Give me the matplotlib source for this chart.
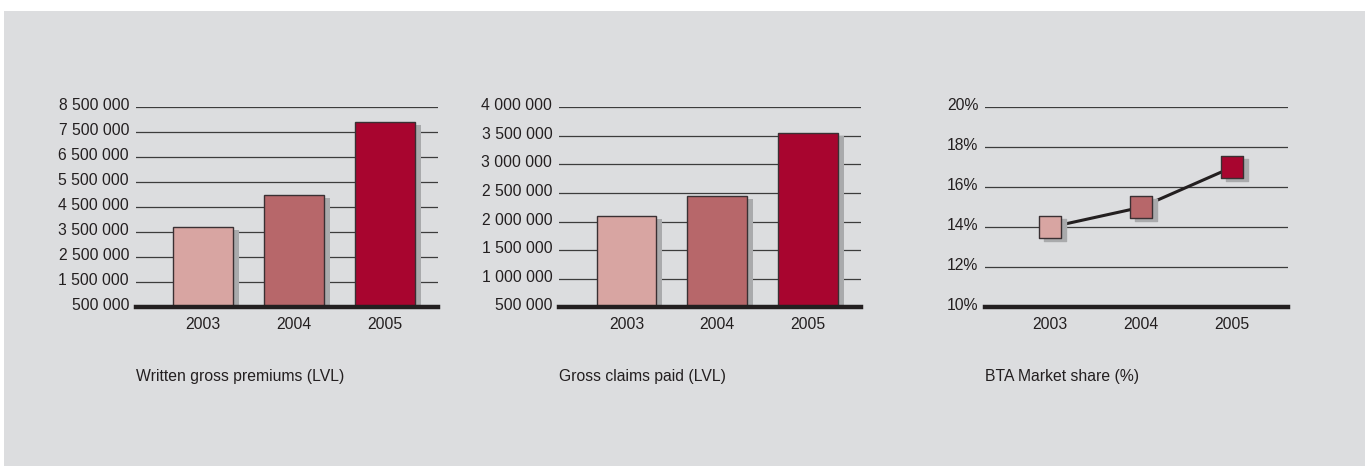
import matplotlib
matplotlib.use("Agg")
import matplotlib.pyplot as plt
from matplotlib.patches import Rectangle
from matplotlib.transforms import ScaledTranslation

# data
years = ['2003', '2004', '2005']
premiums = [3720000, 4990000, 7900000]
claims = [2090000, 2440000, 3555000]
market_share = [14, 15, 17]

premium_ticks = [500000, 1500000, 2500000, 3500000, 4500000, 5500000, 6500000, 7500000, 8500000]
claims_ticks = [500000, 1000000, 1500000, 2000000, 2500000, 3000000, 3500000, 4000000]
share_ticks = [10, 12, 14, 16, 18, 20]

captions = ['Written gross premiums (LVL)', 'Gross claims paid (LVL)', 'BTA Market share (%)']

year_colors = ['#d8a5a2', '#b7676a', '#a8052f']
panel_color = '#dcdddf'
shadow_color = '#a9aaac'
ink = '#231f20'

W, H = 1370, 466
plt.rcParams['font.family'] = ['Liberation Sans', 'DejaVu Sans']
FS = 11.3


def space_fmt(v):
    return f"{v:,.0f}".replace(',', ' ')


def make_axes(fig, left_px, width_px):
    ax = fig.add_axes([left_px / W, (H - 307.3) / H, width_px / W, 200 / H])
    ax.set_facecolor('none')
    for s in ['top', 'right', 'left']:
        ax.spines[s].set_visible(False)
    ax.spines['bottom'].set_linewidth(3.2)
    ax.spines['bottom'].set_color(ink)
    ax.spines['bottom'].set_zorder(5)
    ax.set_axisbelow(True)
    ax.yaxis.grid(True, color='#3c3c3c', linewidth=0.9)
    ax.tick_params(length=0, labelsize=FS, colors=ink)
    ax.tick_params(axis='y', pad=5)
    ax.tick_params(axis='x', pad=7)
    return ax


def lift_ylabels(fig, ax):
    # tick labels sit a little above their gridlines in the original
    off = ScaledTranslation(0, 3 / 100, fig.dpi_scale_trans)
    for lab in ax.get_yticklabels():
        lab.set_transform(lab.get_transform() + off)


def bar_panel(fig, ax, values, ticks):
    x = list(range(len(years)))
    shadow = ScaledTranslation(6 / 100, -3 / 100, fig.dpi_scale_trans)
    sb = ax.bar(x, values, width=0.66, color=shadow_color, zorder=1)
    for p in sb:
        p.set_transform(ax.transData + shadow)
    ax.bar(x, values, width=0.66, color=year_colors, edgecolor='#3a3033',
           linewidth=1, zorder=2)
    ax.set_xticks(x)
    ax.set_xticklabels(years)
    ax.set_yticks(ticks)
    ax.set_yticklabels([space_fmt(t) for t in ticks])
    ax.set_ylim(ticks[0], ticks[-1])
    ax.set_xlim(-0.74, 2.58)
    lift_ylabels(fig, ax)


fig = plt.figure(figsize=(W / 100, H / 100), dpi=100)
fig.patch.set_facecolor('white')
fig.patches.append(Rectangle((4 / W, 0), 1361 / W, 455 / H, transform=fig.transFigure,
                             facecolor=panel_color, edgecolor='none', zorder=-10))

ax1 = make_axes(fig, 136, 301.7)
bar_panel(fig, ax1, premiums, premium_ticks)

ax2 = make_axes(fig, 559.3, 301.4)
bar_panel(fig, ax2, claims, claims_ticks)

# market share line with square markers
ax3 = make_axes(fig, 985.3, 302.4)
x = list(range(len(years)))
ax3.plot(x, market_share, color=ink, linewidth=2.2, zorder=2)
msize = 16 ** 2
sh = ax3.scatter(x, market_share, marker='s', s=msize, color=shadow_color, zorder=3)
sh.set_offset_transform(sh.get_offset_transform() + ScaledTranslation(5 / 100, -3 / 100, fig.dpi_scale_trans))
ax3.scatter(x, market_share, marker='s', s=msize, c=year_colors, edgecolors='#3a3033',
            linewidths=1, zorder=4)
ax3.set_xticks(x)
ax3.set_xticklabels(years)
ax3.set_yticks(share_ticks)
ax3.set_yticklabels([f"{t}%" for t in share_ticks])
ax3.set_ylim(10, 20)
ax3.set_xlim(-0.71, 2.61)
lift_ylabels(fig, ax3)

for ax, cap in zip([ax1, ax2, ax3], captions):
    left = ax.get_position().x0
    fig.text(left, 1 - 377 / H, cap, fontsize=FS, color=ink, ha='left', va='center')

fig.savefig('out.png', dpi=100)
plt.close(fig)
